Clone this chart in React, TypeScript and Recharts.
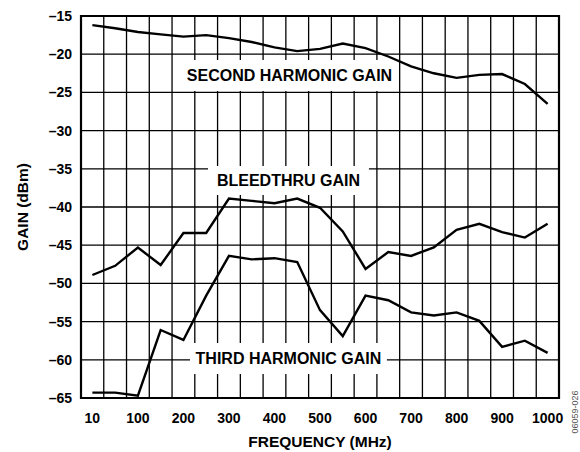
import {
  LineChart,
  Line,
  XAxis,
  YAxis,
  CartesianGrid,
  ReferenceArea,
  Label,
} from "recharts";

const frequencies = [10, 50, 100, 150, 200, 250, 300, 350, 400, 450, 500, 550, 600, 650, 700, 750, 800, 850, 900, 950, 1000];

const secondHarmonic = [-16.2, -16.6, -17.1, -17.4, -17.7, -17.5, -17.9, -18.4, -19.1, -19.6, -19.3, -18.6, -19.2, -20.3, -21.6, -22.5, -23.1, -22.7, -22.6, -23.9, -26.5];
const bleedthru = [-48.9, -47.7, -45.3, -47.6, -43.4, -43.4, -38.9, -39.2, -39.5, -38.9, -40.1, -43.2, -48.1, -45.9, -46.4, -45.3, -43.0, -42.2, -43.3, -44.0, -42.2];
const thirdHarmonic = [-64.3, -64.3, -64.7, -56.1, -57.4, -51.6, -46.4, -46.85, -46.7, -47.2, -53.5, -56.9, -51.6, -52.2, -53.8, -54.2, -53.8, -54.9, -58.3, -57.5, -59.1];

const yTicks = [-65, -60, -55, -50, -45, -40, -35, -30, -25, -20, -15];
const xTicks = [0, 2, 4, 6, 8, 10, 12, 14, 16, 18, 20];
// grid lines fall between the category positions
const xGrid = Array.from({ length: frequencies.length + 1 }, (_, i) => i - 0.5);

const data = frequencies.map((f, i) => ({
  pos: i,
  freq: f,
  second: secondHarmonic[i],
  bleed: bleedthru[i],
  third: thirdHarmonic[i],
}));

const font = "'Liberation Sans', Arial, Helvetica, sans-serif";
const tickStyle = { fontFamily: font, fontSize: 14, fontWeight: 700, fill: "#000" };
const titleStyle = { fontFamily: font, fontSize: 15.5, fontWeight: 700, fill: "#000" };

const boxLabel = (text: string) => (
  <Label
    value={text}
    position="center"
    style={{ fontFamily: font, fontSize: 16, fontWeight: 700, fill: "#000" }}
  />
);

function scaleOf(axis: any) {
  const s = axis && axis.scale;
  if (typeof s === "function") return s;
  if (s && typeof s.map === "function") return (v: number) => s.map(v);
  return (v: number) => v;
}

export default function App() {
  return (
    <div style={{ position: "absolute", left: 0, top: 0, width: 580, height: 452, background: "#fff" }}>
      <LineChart width={580} height={452} data={data} margin={{ top: 16, right: 21, left: 0, bottom: 0 }}>
        <CartesianGrid
          stroke="#000"
          strokeWidth={1.3}
          verticalCoordinatesGenerator={({ xAxis }: any) => {
            const sc = scaleOf(xAxis);
            return xGrid.map((v) => sc(v));
          }}
        />
        <XAxis
          dataKey="pos"
          type="number"
          domain={[-0.5, 20.5]}
          ticks={xTicks}
          interval={0}
          tickFormatter={(v: number) => String(frequencies[v])}
          axisLine={false}
          tickLine={false}
          tickSize={0}
          tickMargin={15}
          height={54}
          tick={tickStyle}
        >
          <Label value="FREQUENCY (MHz)" position="insideBottom" offset={5} style={titleStyle} />
        </XAxis>
        <YAxis
          type="number"
          domain={[-65, -15]}
          ticks={yTicks}
          interval={0}
          tickFormatter={(v: number) => String(v).replace("-", "\u2013")}
          axisLine={false}
          tickLine={false}
          tickSize={0}
          tickMargin={9}
          width={81}
          tick={tickStyle}
        >
          <Label
            value="GAIN (dBm)"
            angle={-90}
            position="insideLeft"
            offset={22}
            style={{ ...titleStyle, textAnchor: "middle" }}
          />
        </YAxis>
        <ReferenceArea x1={3.98} x2={13.34} y1={-24.82} y2={-20.76} fill="#fff" fillOpacity={1} stroke="none">
          {boxLabel("SECOND HARMONIC GAIN")}
        </ReferenceArea>
        <ReferenceArea x1={5.08} x2={12.15} y1={-38.43} y2={-34.63} fill="#fff" fillOpacity={1} stroke="none">
          {boxLabel("BLEEDTHRU GAIN")}
        </ReferenceArea>
        <ReferenceArea x1={4.29} x2={12.94} y1={-61.86} y2={-57.8} fill="#fff" fillOpacity={1} stroke="none">
          {boxLabel("THIRD HARMONIC GAIN")}
        </ReferenceArea>
        <ReferenceArea x1={-0.5} x2={20.5} y1={-65} y2={-15} fill="none" stroke="#000" strokeWidth={2.2} />
        <Line dataKey="second" type="linear" stroke="#000" strokeWidth={2.4} dot={false} isAnimationActive={false} />
        <Line dataKey="bleed" type="linear" stroke="#000" strokeWidth={2.4} dot={false} isAnimationActive={false} />
        <Line dataKey="third" type="linear" stroke="#000" strokeWidth={2.4} dot={false} isAnimationActive={false} />
      </LineChart>
      <div
        style={{
          position: "absolute",
          left: 575,
          top: 412,
          transform: "translate(-50%, -50%) rotate(-90deg)",
          fontFamily: font,
          fontSize: 9,
          color: "#555",
          whiteSpace: "nowrap",
        }}
      >
        06059-026
      </div>
    </div>
  );
}
